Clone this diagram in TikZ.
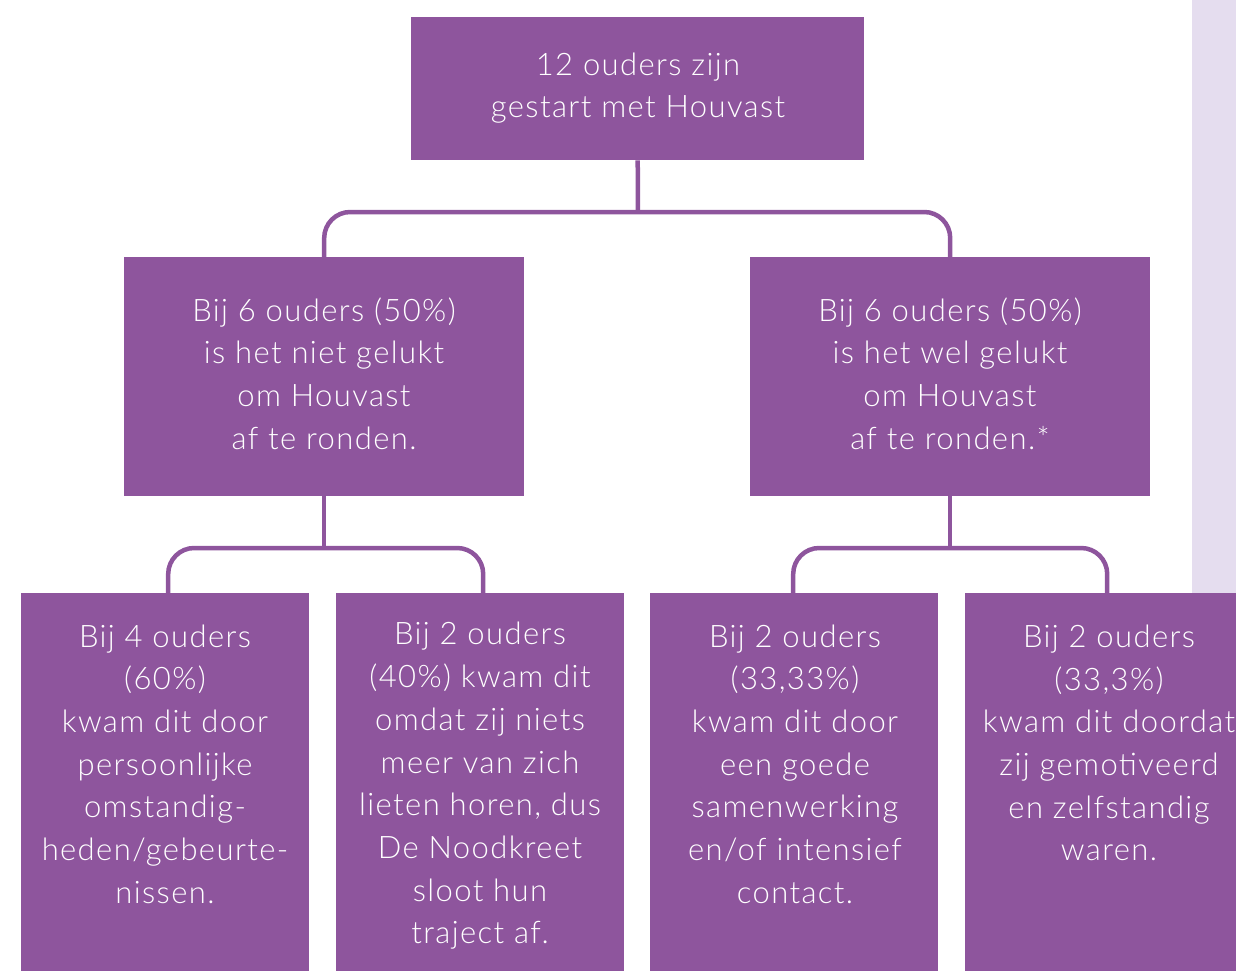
\documentclass[tikz,border=0pt]{standalone}
\usepackage{fontspec}
\setmainfont{Lato Light}[LetterSpace=4.5]
\definecolor{hvpurple}{HTML}{8E559D}
\definecolor{hvlav}{HTML}{E5DDEF}
\begin{document}
\begin{tikzpicture}[x=1pt,y=-1pt,
  box/.style={fill=hvpurple,draw=none,inner sep=0pt,anchor=north west},
  txt/.style={text=white,align=center,inner sep=0pt,font=\fontsize{31}{42.7}\selectfont},
  conn/.style={draw=hvpurple,line width=4.5pt,rounded corners=26pt}]
\useasboundingbox (0,0) rectangle (1236,971);
\clip (0,0) rectangle (1236,971);
\fill[hvlav] (1192,0) rectangle (1236,593);
% boxes
\node[box,minimum width=453pt,minimum height=143pt] (top) at (411,17) {};
\node[box,minimum width=400pt,minimum height=239pt] (ml) at (124,257) {};
\node[box,minimum width=400pt,minimum height=239pt] (mr) at (750,257) {};
\node[box,minimum width=288pt,minimum height=400pt] (b1) at (21,593) {};
\node[box,minimum width=288pt,minimum height=400pt] (b2) at (336,593) {};
\node[box,minimum width=288pt,minimum height=400pt] (b3) at (650,593) {};
\node[box,minimum width=288pt,minimum height=400pt] (b4) at (965,593) {};
% texts
\node[txt] (ttop) at (638,88) {12 ouders zijn\\gestart met Houvast};
\node[txt] (tml) at (324,373.5) {Bij 6 ouders (50\%)\\is het niet gelukt\\om Houvast\\af te ronden.};
\node[txt] (tmr) at (950,373.5) {Bij 6 ouders (50\%)\\is het wel gelukt\\om Houvast\\af te ronden.*};
\node[txt] (tb1) at (165,764) {Bij 4 ouders\\(60\%)\\kwam dit door\\persoonlijke\\omstandig-\\heden/gebeurte-\\nissen.};
\node[txt] (tb2) at (480,786) {Bij 2 ouders\\(40\%) kwam dit\\omdat zij niets\\meer van zich\\lieten horen, dus\\De Noodkreet\\sloot hun\\traject af.};
\node[txt] (tb3) at (795,764) {Bij 2 ouders\\(33,33\%)\\kwam dit door\\een goede\\samenwerking\\en/of intensief\\contact.};
\node[txt] (tb4) at (1109,743) {Bij 2 ouders\\(33,3\%)\\kwam dit doordat\\zij gemotiveerd\\en zelfstandig\\waren.};
% connectors
\coordinate (j1) at (638,212);
\coordinate (j2) at (ml.south |- 0,548);
\coordinate (j3) at (mr.south |- 0,548);
\draw[conn] (top.south) -- (j1);
\draw[conn] (ml.north) |- (j1) -| (mr.north);
\draw[conn] (ml.south) -- (j2);
\draw[conn] ([xshift=-156pt]ml.south |- b1.north) |- (j2) -| ([xshift=159pt]ml.south |- b2.north);
\draw[conn] (mr.south) -- (j3);
\draw[conn] ([xshift=-157pt]mr.south |- b3.north) |- (j3) -| ([xshift=157pt]mr.south |- b4.north);
\end{tikzpicture}
\end{document}
